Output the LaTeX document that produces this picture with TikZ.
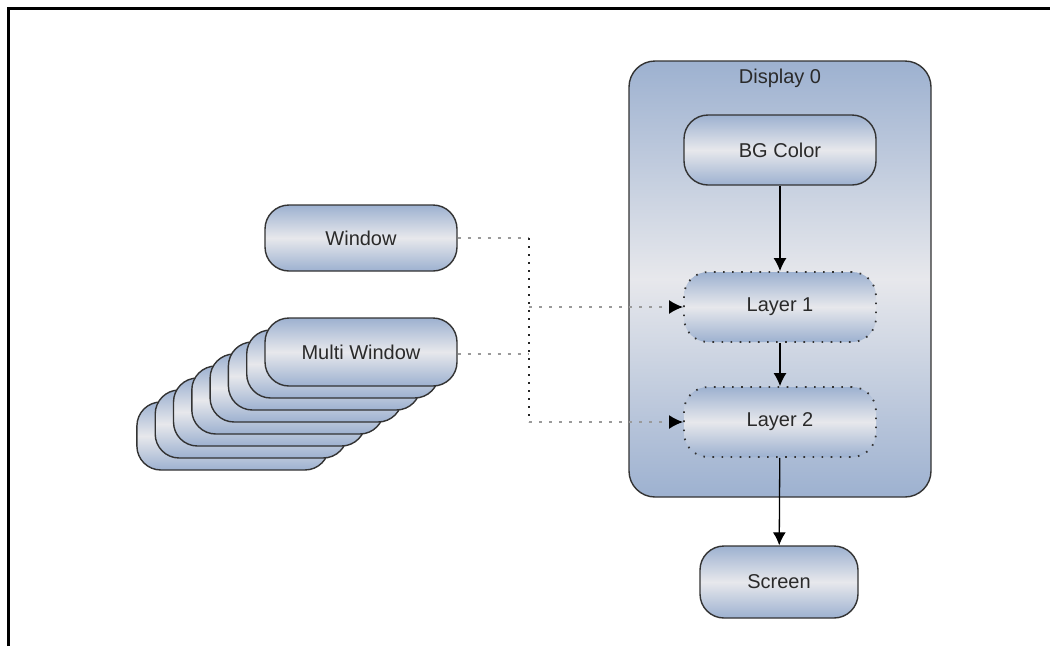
\documentclass[tikz,border=0pt]{standalone}
\usepackage{fontspec}
\setmainfont{Liberation Sans}
\usetikzlibrary{arrows.meta}
\definecolor{boxblue}{HTML}{9DB1D0}
\definecolor{boxlight}{HTML}{E7E8EC}
\definecolor{edge}{HTML}{333333}
\definecolor{txt}{HTML}{2A2A2A}
\definecolor{dotgray}{HTML}{9A9A9A}
\tikzset{
  box/.style={draw=edge, line width=1.4pt, rounded corners=24pt,
    top color=boxblue, bottom color=boxblue, middle color=boxlight,
    minimum width=192pt, minimum height=70pt, text=txt,
    font=\fontsize{20}{24}\selectfont, inner sep=0pt},
  layerbox/.style={box, draw=edge, line width=1.8pt, dash pattern=on 1.6pt off 7.5pt},
  container/.style={draw=edge, line width=1.4pt, rounded corners=26pt,
    top color=boxblue, bottom color=boxblue, middle color=boxlight,
    minimum width=302pt, minimum height=436pt, inner sep=0pt},
  title/.style={text=txt, font=\fontsize{20}{24}\selectfont, inner sep=0pt},
  flow/.style={draw=black, line width=1.3pt, -{Latex[length=13pt,width=13pt]}},
  hdot/.style={draw=dotgray, line width=2pt, dash pattern=on 3pt off 7pt},
  vdot/.style={draw=black!85, line width=1.8pt, dash pattern=on 1.6pt off 6.4pt},
  tip/.style={-{Latex[length=14pt,width=14pt,color=black]}},
  frame/.style={draw=black, line width=3pt}
}
\begin{document}
\begin{tikzpicture}[x=1pt,y=-1pt]
\useasboundingbox (0,0) rectangle (1050,646);
% frame
\coordinate (fa) at (8.5,646);
\coordinate (fb) at (8.5,8.5);
\coordinate (fc) at (1050,8.5);
\draw[frame] (fa) -- (fb) -- (fc);
% container
\node[container] (disp) at (780,279) {};
\node[title] (disptitle) at (780,78) {Display 0};
\node[box] (bg) at (780,150) {BG Color};
\node[layerbox] (l1) at (780,307) {\phantom{x}};
\node[title] at (l1) {Layer 1};
\node[layerbox] (l2) at (780,422) {\phantom{x}};
\node[title] at (l2) {Layer 2};
\node[box, minimum width=158pt, minimum height=72pt] (scr) at (779,582) {Screen};
% windows
\node[box, minimum height=66pt] (win) at (361,238) {Window};
\foreach \i in {7,6,...,1}{
  \node[box, minimum height=68pt] (mw\i) at ({361-18.3*\i},{352+12*\i}) {};
}
\node[box, minimum height=68pt] (mw) at (361,352) {Multi Window};
% flows
\draw[flow] (bg) -- (l1);
\draw[flow] (l1) -- (l2);
\draw[flow] (l2) -- (scr);
% dotted connectors
\coordinate (j1) at (529,238);
\coordinate (j2) at (529,354);
\coordinate (b1) at (529,307);
\coordinate (b2) at (529,422);
\draw[hdot] (win.east) -- (j1);
\draw[hdot] (mw.east |- j2) -- (j2);
\draw[vdot] (j1) -- (b2);
\draw[hdot, tip] (b1) -- (l1.west);
\draw[hdot, tip] (b2) -- (l2.west);
\end{tikzpicture}
\end{document}
